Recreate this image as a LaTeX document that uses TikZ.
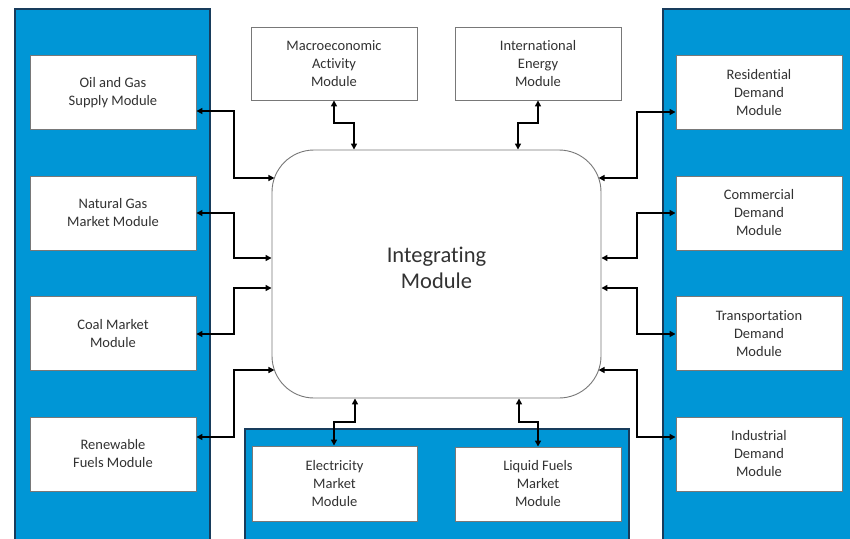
\documentclass[tikz,border=0pt]{standalone}
\usepackage{fontspec}
\setmainfont{Carlito}[Ligatures=NoCommon]
\usetikzlibrary{arrows.meta}
\definecolor{panelblue}{RGB}{0,150,214}
\definecolor{paneledge}{RGB}{24,60,92}
\definecolor{boxedge}{RGB}{120,120,120}
\definecolor{txt}{RGB}{50,50,50}
\tikzset{
  panel/.style={fill=panelblue,draw=paneledge,line width=2.2pt},
  modbox/.style={draw=boxedge,fill=white,line width=0.9pt,minimum width=166pt,minimum height=74pt,
    inner sep=0pt,align=center,text=txt,font=\fontsize{14.5}{18}\selectfont},
  integ/.style={draw=boxedge,fill=white,line width=0.9pt,rounded corners=42pt,minimum width=329pt,
    minimum height=248pt,inner sep=0pt,align=center,text=txt},
  bigtext/.style={align=center,text=txt,font=\fontsize{22.5}{26}\selectfont,inner sep=0pt},
  arr/.style={line width=1.9pt,black,{Triangle[length=6pt,width=6pt]}-{Triangle[length=6pt,width=6pt]}}
}
\begin{document}
\begin{tikzpicture}[x=1pt,y=-1pt]
\useasboundingbox (0,0) rectangle (850,538);
\fill[white] (0,0) rectangle (850,538);
% panels
\draw[panel] (15,9) rectangle (210,550);
\draw[panel] (663,9) rectangle (870,550);
\draw[panel] (245,429) rectangle (629,550);
% left boxes
\node[modbox] (oil) at (113,92.5) {Oil and Gas\\Supply Module};
\node[modbox] (gas) at (113,213) {Natural Gas\\Market  Module};
\node[modbox] (coal) at (113,333.5) {Coal Market\\Module};
\node[modbox] (ren) at (113,454) {Renewable\\Fuels Module};
% right boxes
\node[modbox] (res) at (759,92.5) {Residential\\Demand\\Module};
\node[modbox] (com) at (759,213) {Commercial\\Demand\\Module};
\node[modbox] (tra) at (759,333.5) {Transportation\\Demand\\Module};
\node[modbox] (ind) at (759,454) {Industrial\\Demand\\Module};
% top boxes
\node[modbox,minimum height=73pt] (mac) at (334,63.5) {Macroeconomic\\Activity\\Module};
\node[modbox,minimum height=73pt] (int) at (538,63.5) {International\\Energy\\Module};
% bottom boxes
\node[modbox,minimum width=165pt,minimum height=75pt] (ele) at (334.5,483.5) {Electricity\\Market\\Module};
\node[modbox,minimum height=74pt] (liq) at (538,484) {Liquid Fuels\\Market\\Module};
% integrating module
\node[integ] (im) at (436.5,274) {};
\node[bigtext] (imtext) at (436.5,268) {Integrating\\Module};
% left connectors
\draw[arr] (oil.east |- 0,111) -- (234,111) -- (234,178) -- (274.4,178);
\draw[arr] (gas.east |- 0,213) -- (234,213) -- (234,258) -- (im.west |- 0,258);
\draw[arr] (coal.east |- 0,334) -- (234,334) -- (234,288) -- (im.west |- 0,288);
\draw[arr] (ren.east |- 0,437) -- (234,437) -- (234,370) -- (274.4,370);
% right connectors
\draw[arr] (res.west |- 0,112) -- (637,112) -- (637,178) -- (598.6,178);
\draw[arr] (com.west |- 0,213) -- (637,213) -- (637,258) -- (im.east |- 0,258);
\draw[arr] (tra.west |- 0,334) -- (637,334) -- (637,288) -- (im.east |- 0,288);
\draw[arr] (ind.west |- 0,437) -- (637,437) -- (637,370) -- (598.6,370);
% top connectors
\draw[arr] (mac.south -| 334,0) -- (334,123) -- (354,123) -- (im.north -| 354,0);
\draw[arr] (int.south -| 538,0) -- (538,123) -- (518,123) -- (im.north -| 518,0);
% bottom connectors
\draw[arr] (im.south -| 355,0) -- (355,422) -- (334,422) -- (ele.north -| 334,0);
\draw[arr] (im.south -| 519,0) -- (519,422) -- (538,422) -- (liq.north -| 538,0);
\end{tikzpicture}
\end{document}
